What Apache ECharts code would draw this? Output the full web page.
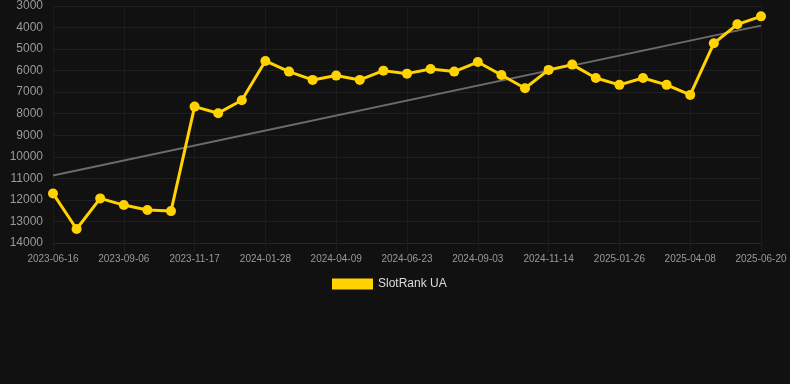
<!DOCTYPE html>
<html>
<head>
<meta charset="utf-8">
<script src="https://cdn.jsdelivr.net/npm/echarts@6/dist/echarts.min.js"></script>
<style>
html,body{margin:0;padding:0;background:#111111;}
#chart{width:790px;height:384px;}
</style>
</head>
<body>
<div id="chart"></div>
<script>
var categories = [
  "2023-06-16","2023-07-13","2023-08-09","2023-09-06","2023-09-30","2023-10-24",
  "2023-11-17","2023-12-11","2024-01-04","2024-01-28","2024-02-21","2024-03-16",
  "2024-04-09","2024-05-04","2024-05-29","2024-06-23","2024-07-17","2024-08-10",
  "2024-09-03","2024-09-27","2024-10-21","2024-11-14","2024-12-08","2025-01-01",
  "2025-01-26","2025-02-19","2025-03-15","2025-04-08","2025-05-02","2025-05-26",
  "2025-06-20"
];
var rankValues = [
  11700, 13350, 11930, 12240, 12470, 12520,
  7670, 7975, 7375, 5550, 6045, 6430,
  6230, 6430, 6000, 6140, 5920, 6045,
  5600, 6200, 6815, 5965, 5720, 6340,
  6660, 6340, 6660, 7125, 4730, 3850,
  3480
];
var trendStart = 10870;
var trendEnd = 3910;
var yTicks = {min: 3000, max: 14000, step: 1000};
var seriesName = "SlotRank UA";

var trendData = categories.map(function(c, i){
  if (i === 0) return trendStart;
  if (i === categories.length - 1) return trendEnd;
  return null;
});

var chart = echarts.init(document.getElementById('chart'), null, {renderer:'canvas'});
chart.setOption({
  backgroundColor: '#111111',
  animation: false,
  grid: {left: 53, right: 29, top: 6, bottom: 141, containLabel: false},
  legend: {
    data: [{name: seriesName, icon: 'rect'}],
    top: 273,
    left: 327,
    itemWidth: 41,
    itemHeight: 11,
    itemGap: 6,
    textStyle: {color: '#dddddd', fontSize: 12, fontFamily: 'Liberation Sans, Arial, sans-serif'}
  },
  xAxis: {
    type: 'category',
    data: categories,
    boundaryGap: false,
    axisLine: {show: true, lineStyle: {color: '#262626', width: 1}},
    axisTick: {show: true, interval: 2, length: 9, lineStyle: {color: '#1c1c1c', width: 1}},
    axisLabel: {
      interval: 2,
      color: '#999999',
      fontSize: 10,
      margin: 11,
      fontFamily: 'Liberation Sans, Arial, sans-serif'
    },
    splitLine: {show: true, interval: 2, lineStyle: {color: '#1c1c1c', width: 1}}
  },
  yAxis: {
    type: 'value',
    inverse: true,
    min: yTicks.min,
    max: yTicks.max,
    interval: yTicks.step,
    axisLine: {show: false},
    axisTick: {show: false},
    axisLabel: {
      color: '#999999',
      fontSize: 12,
      margin: 10,
      fontFamily: 'Liberation Sans, Arial, sans-serif',
      formatter: function(v){ return String(v); }
    },
    splitLine: {show: true, lineStyle: {color: '#1f1f1f', width: 1}}
  },
  series: [
    {
      name: 'trend',
      type: 'line',
      data: trendData,
      connectNulls: true,
      symbol: 'none',
      silent: true,
      lineStyle: {color: '#6b6b6b', width: 2},
      z: 1
    },
    {
      name: seriesName,
      type: 'line',
      data: rankValues,
      symbol: 'circle',
      symbolSize: 10,
      itemStyle: {color: '#FFD200'},
      lineStyle: {color: '#FFD200', width: 3},
      z: 3
    }
  ]
});
</script>
</body>
</html>
